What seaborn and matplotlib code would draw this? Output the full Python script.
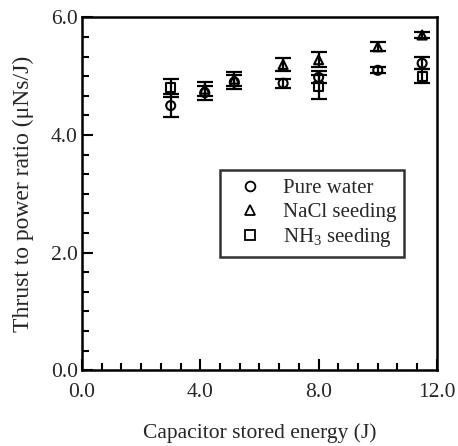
import numpy as np
import pandas as pd
import seaborn as sns
from matplotlib import pyplot as plt
from matplotlib.lines import Line2D
from matplotlib.ticker import MultipleLocator

# values
water_x = [3.0, 4.15, 5.15, 6.8, 8.0, 10.0, 11.5]
water_y = [4.50, 4.72, 4.90, 4.88, 4.98, 5.10, 5.22]
water_err = [0.20, 0.12, 0.12, 0.08, 0.10, 0.05, 0.10]

nacl_x = [4.15, 5.15, 6.8, 8.0, 10.0, 11.5]
nacl_y = [4.78, 4.95, 5.20, 5.28, 5.50, 5.70]
nacl_err = [0.12, 0.12, 0.11, 0.13, 0.08, 0.05]

nh3_x = [3.0, 8.0, 11.5]
nh3_y = [4.80, 4.82, 5.00]
nh3_err = [0.15, 0.20, 0.12]

labels = ["Pure water", "NaCl seeding", "NH$_3$ seeding"]
markers = {"Pure water": "o", "NaCl seeding": "^", "NH$_3$ seeding": "s"}

sns.set_style("ticks")
plt.rcParams['font.family'] = ['Liberation Serif', 'DejaVu Serif']
plt.rcParams['mathtext.fontset'] = 'custom'
plt.rcParams['mathtext.rm'] = 'Liberation Serif'
plt.rcParams['mathtext.it'] = 'Liberation Serif'
plt.rcParams['mathtext.default'] = 'rm'

df = pd.concat([
    pd.DataFrame({"E": water_x, "T": water_y, "err": water_err, "case": labels[0]}),
    pd.DataFrame({"E": nacl_x, "T": nacl_y, "err": nacl_err, "case": labels[1]}),
    pd.DataFrame({"E": nh3_x, "T": nh3_y, "err": nh3_err, "case": labels[2]}),
])

fig = plt.figure(figsize=(4.58, 4.46), dpi=100)
ax = fig.add_axes([0.179, 0.170, 0.775, 0.791])

ax.errorbar(df["E"], df["T"], yerr=df["err"], fmt='none', ecolor='black',
            elinewidth=1.6, capsize=6, capthick=1.6, zorder=2)
sns.scatterplot(data=df, x="E", y="T", style="case", markers=markers,
                color='black', facecolor='none', edgecolor='black',
                linewidth=1.5, s=42, legend=False, ax=ax, zorder=3)

ax.set_xlim(0, 12)
ax.set_ylim(0, 6)
ax.xaxis.set_major_locator(MultipleLocator(4))
ax.xaxis.set_minor_locator(MultipleLocator(4 / 6))
ax.yaxis.set_major_locator(MultipleLocator(2))
ax.yaxis.set_minor_locator(MultipleLocator(1 / 3))
ax.xaxis.set_major_formatter(lambda v, p: f"{v:.1f}")
ax.yaxis.set_major_formatter(lambda v, p: f"{v:.1f}")
ax.tick_params(which='both', direction='in', top=False, right=False,
               labelsize=15.5, width=1.5, color='black')
ax.tick_params(which='major', length=8)
ax.tick_params(which='minor', length=5)
ax.tick_params(axis='x', which='major', pad=9.5)
ax.tick_params(axis='y', which='major', pad=3)
for s in ax.spines.values():
    s.set_linewidth(1.8)
    s.set_color('black')

ax.set_xlabel("Capacitor stored energy (J)", fontsize=15.5, labelpad=15)
ax.set_ylabel("Thrust to power ratio (μNs/J)", fontsize=17, labelpad=12)

handles = [Line2D([], [], ls='none', marker=markers[l], mfc='none', mec='black',
                  mew=1.3, ms=7) for l in labels]
leg = ax.legend(handles, labels, loc='upper left', bbox_to_anchor=(0.389, 0.567),
                borderaxespad=0, fontsize=15, frameon=True, fancybox=False,
                handletextpad=0.5, labelspacing=0.2, borderpad=0.4,
                handlelength=2.1)
leg.get_frame().set_edgecolor('black')
leg.get_frame().set_linewidth(1.8)

fig.savefig("out.png", dpi=100)
